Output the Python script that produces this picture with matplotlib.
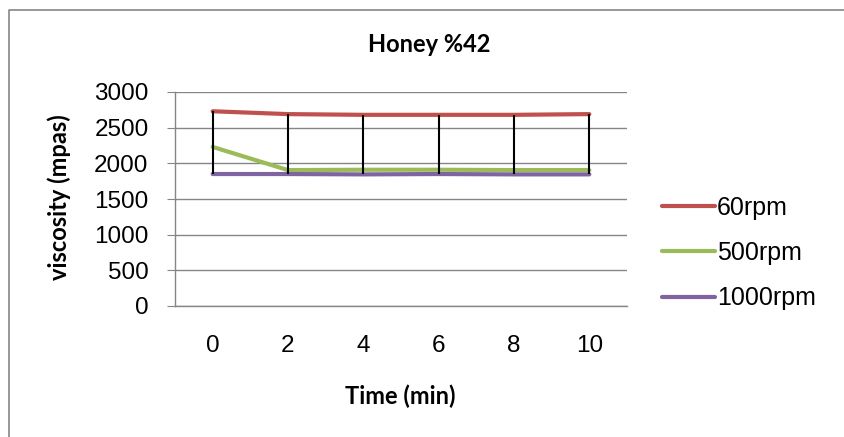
import numpy as np
import matplotlib.pyplot as plt
from matplotlib.lines import Line2D

times = ['0', '2', '4', '6', '8', '10']
v60 = [2730, 2690, 2680, 2680, 2680, 2690]
v500 = [2230, 1905, 1910, 1910, 1905, 1905]
v1000 = [1850, 1850, 1845, 1850, 1845, 1845]

red = '#C0504D'
green = '#9BBB59'
purple = '#8064A2'
grid = '#868686'

fig = plt.figure(figsize=(8.44, 4.37), dpi=100)
ax = fig.add_axes([175/844, 1 - 306/437, (627 - 175)/844, (306 - 92)/437])

x = np.arange(len(times))
ax.plot(x, v60, color=red, lw=3, solid_capstyle='round', label='60rpm', zorder=3)
ax.plot(x, v500, color=green, lw=3, solid_capstyle='round', label='500rpm', zorder=3)
ax.plot(x, v1000, color=purple, lw=3, solid_capstyle='round', label='1000rpm', zorder=3)

# high-low lines
hi = np.max([v60, v500, v1000], axis=0)
lo = np.min([v60, v500, v1000], axis=0)
ax.vlines(x, lo, hi, color='black', lw=1.5, zorder=4)

ax.set_xlim(-0.5, len(times) - 0.5)
ax.set_ylim(0, 3000)
ax.set_yticks(np.arange(0, 3001, 500))
ax.set_xticks(x)
ax.set_xticklabels(times)
ax.grid(axis='y', color=grid, lw=1)
ax.set_axisbelow(True)
for s in ['top', 'right']:
    ax.spines[s].set_visible(False)
for s in ['left', 'bottom']:
    ax.spines[s].set_color(grid)
    ax.spines[s].set_linewidth(1)
ax.tick_params(axis='y', length=6, color=grid, labelsize=17.5, pad=13)
ax.tick_params(axis='x', length=0, labelsize=17.5, pad=21)
for lab in ax.get_xticklabels() + ax.get_yticklabels():
    lab.set_family('Liberation Sans')

fig.text(429/844, 1 - 45/437, 'Honey %42', ha='center', va='center',
         fontsize=17, fontweight='bold', family='Lato')
fig.text(400/844, 1 - 396/437, 'Time (min)', ha='center', va='center',
         fontsize=17, fontweight='bold', family='Lato')
fig.text(59/844, 1 - 197/437, 'viscosity (mpas)', ha='center', va='center',
         rotation=90, fontsize=17, fontweight='bold', family='Lato')

fig.legend(loc='center left', bbox_to_anchor=(662/844, 1 - 253/437),
           frameon=False, prop={'family': 'Liberation Sans', 'size': 18},
           handlelength=2.1, handletextpad=0.1, labelspacing=0.85,
           borderpad=0, borderaxespad=0)

# outer chart frame (top and left edges only are in view)
fig.add_artist(Line2D([9/844, 9/844, 1], [0, 1 - 10/437, 1 - 10/437],
                      transform=fig.transFigure, color=grid, lw=1.2))

fig.savefig('out.png', dpi=100)
